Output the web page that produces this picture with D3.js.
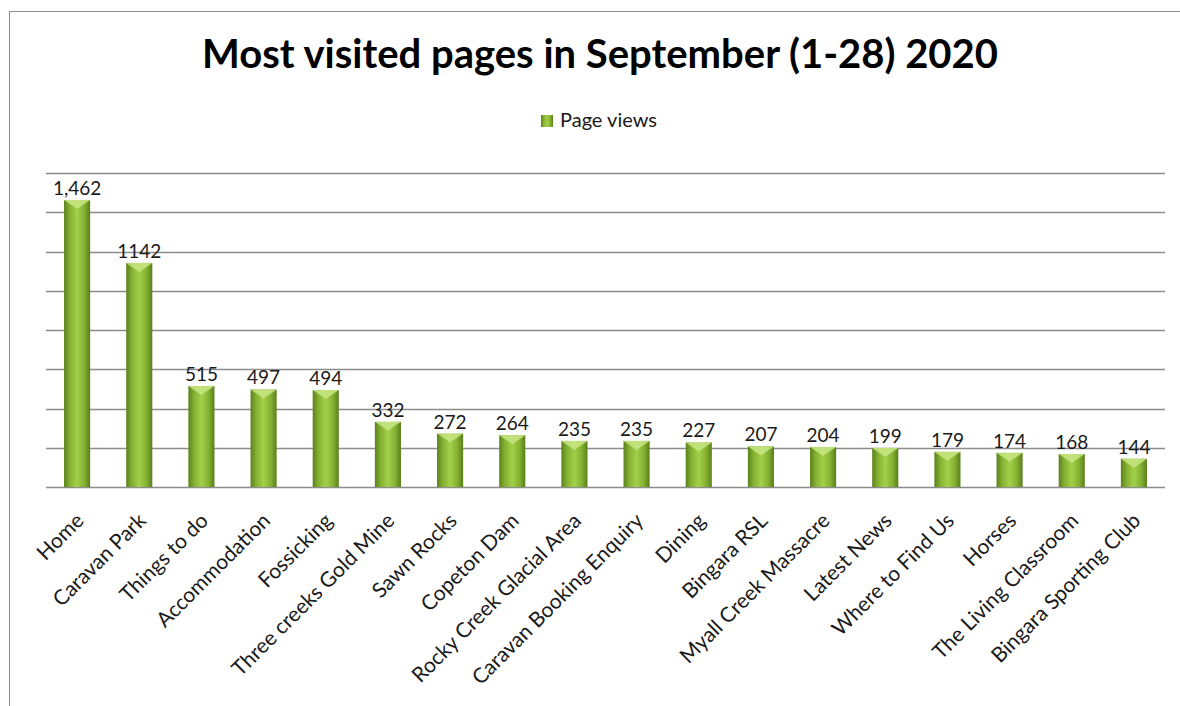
<!DOCTYPE html>
<html>
<head>
<meta charset="utf-8">
<script src="https://cdn.jsdelivr.net/npm/d3@7"></script>
<style>
  body { margin: 0; background: #fff; }
  svg { display: block; font-family: Lato, "Open Sans", sans-serif; }
</style>
</head>
<body>
<svg id="chart" width="1180" height="706"></svg>
<script>
// data
var pages = ["Home", "Caravan Park", "Things to do", "Accommodation", "Fossicking",
  "Three creeks Gold Mine", "Sawn Rocks", "Copeton Dam", "Rocky Creek Glacial Area",
  "Caravan Booking Enquiry", "Dining", "Bingara RSL", "Myall Creek Massacre",
  "Latest News", "Where to Find Us", "Horses", "The Living Classroom", "Bingara Sporting Club"]
var views = [1462, 1142, 515, 497, 494, 332, 272, 264, 235, 235, 227, 207, 204, 199, 179, 174, 168, 144]
var viewLabels = ["1,462", "1142", "515", "497", "494", "332", "272", "264", "235", "235",
  "227", "207", "204", "199", "179", "174", "168", "144"]
var gridTicks = [0, 200, 400, 600, 800, 1000, 1200, 1400, 1600]

var svg = d3.select("#chart")
var plotLeft = 46, plotRight = 1165, plotTop = 173, plotBottom = 487

// frame of the chart area
svg.append("path")
  .attr("d", "M9.5,706 L9.5,11.5 L1180,11.5")
  .attr("fill", "none")
  .attr("stroke", "#8a8a8a")
  .attr("stroke-width", 1)

var defs = svg.append("defs")
var grad = defs.append("linearGradient")
  .attr("id", "barGrad")
  .attr("x1", "0").attr("x2", "1").attr("y1", "0").attr("y2", "0")
grad.append("stop").attr("offset", "0%").attr("stop-color", "#5c811d")
grad.append("stop").attr("offset", "22%").attr("stop-color", "#84b131")
grad.append("stop").attr("offset", "50%").attr("stop-color", "#a2d04a")
grad.append("stop").attr("offset", "78%").attr("stop-color", "#84b131")
grad.append("stop").attr("offset", "100%").attr("stop-color", "#5a7e1c")

var x = d3.scaleBand()
  .domain(pages)
  .range([plotLeft, plotRight])
  .paddingInner(0.58)
  .paddingOuter(0.29)

var y = d3.scaleLinear()
  .domain([0, 1600])
  .range([plotBottom, plotTop])

// gridlines
svg.append("g")
  .selectAll("line")
  .data(gridTicks)
  .enter()
  .append("line")
  .attr("x1", plotLeft)
  .attr("x2", plotRight)
  .attr("y1", function (d) { return Math.round(y(d)) + 0.5 })
  .attr("y2", function (d) { return Math.round(y(d)) + 0.5 })
  .attr("stroke", "#8c8c8c")
  .attr("stroke-width", 1.5)

// bars
var bar = svg.append("g")
  .selectAll("g")
  .data(views)
  .enter()
  .append("g")

bar.append("rect")
  .attr("x", function (d, i) { return x(pages[i]) })
  .attr("y", function (d) { return y(d) })
  .attr("width", x.bandwidth())
  .attr("height", function (d) { return y(0) - y(d) })
  .attr("fill", "url(#barGrad)")

// light bevel at the top of each bar
bar.append("path")
  .attr("d", function (d, i) {
    var x0 = x(pages[i]), w = x.bandwidth(), y0 = y(d)
    return "M" + x0 + "," + y0 + " L" + (x0 + w) + "," + y0 +
      " L" + (x0 + w * 0.5) + "," + (y0 + 9) + " Z"
  })
  .attr("fill", "#c8e684")
  .attr("opacity", 0.85)

// value labels
svg.append("g")
  .selectAll("text")
  .data(views)
  .enter()
  .append("text")
  .attr("x", function (d, i) { return x(pages[i]) + x.bandwidth() / 2 })
  .attr("y", function (d) { return y(d) - 5 })
  .attr("text-anchor", "middle")
  .attr("font-size", "19px")
  .attr("fill", "#1a1a1a")
  .text(function (d, i) { return viewLabels[i] })

// category labels
svg.append("g")
  .selectAll("text")
  .data(pages)
  .enter()
  .append("text")
  .attr("transform", function (d) {
    return "translate(" + (x(d) + x.bandwidth() / 2 + 8) + "," + (plotBottom + 35) + ") rotate(-45)"
  })
  .attr("text-anchor", "end")
  .attr("font-size", "21px")
  .attr("fill", "#1a1a1a")
  .text(function (d) { return d })

// title
svg.append("text")
  .attr("x", 600)
  .attr("y", 68)
  .attr("text-anchor", "middle")
  .attr("font-size", "40px")
  .attr("font-weight", "bold")
  .attr("fill", "#000")
  .text("Most visited pages in September (1-28) 2020")

// legend
svg.append("rect")
  .attr("x", 541)
  .attr("y", 115)
  .attr("width", 12)
  .attr("height", 12)
  .attr("fill", "url(#barGrad)")
svg.append("text")
  .attr("x", 560)
  .attr("y", 127)
  .attr("font-size", "20px")
  .attr("fill", "#1a1a1a")
  .text("Page views")
</script>
</body>
</html>
